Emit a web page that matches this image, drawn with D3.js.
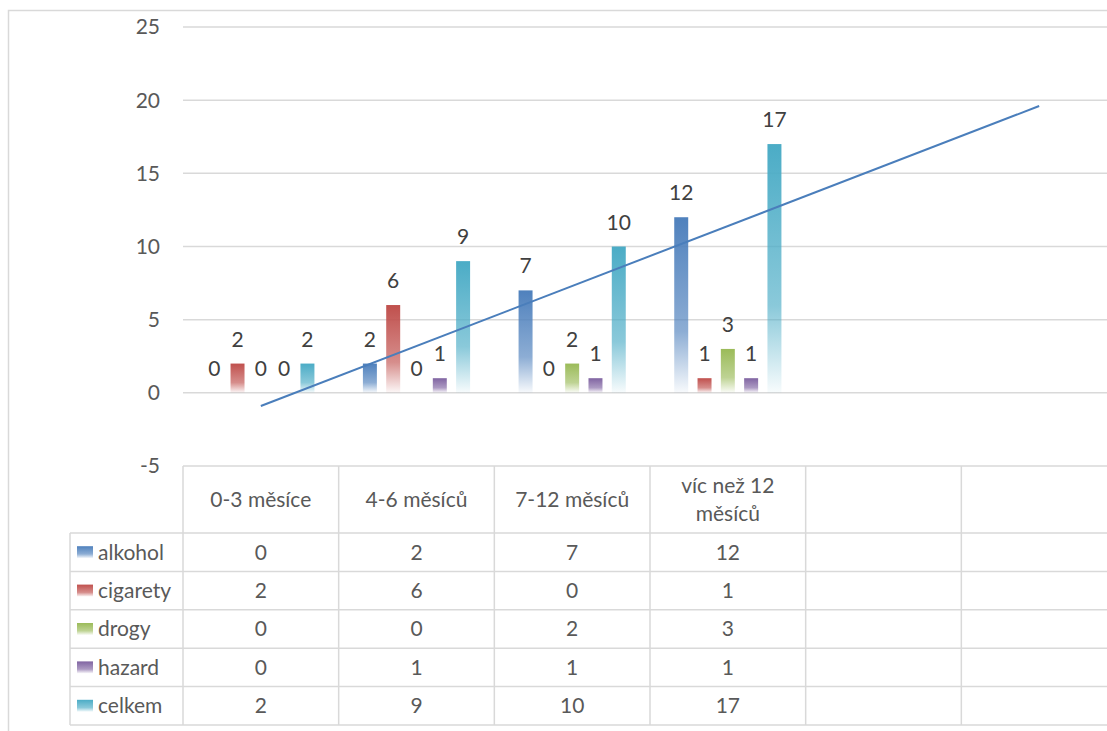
<!DOCTYPE html>
<html>
<head>
<meta charset="utf-8">
<script src="https://cdn.jsdelivr.net/npm/d3@7"></script>
<style>
  body { margin: 0; background: #fff; }
  svg { display: block; font-family: Lato, "Open Sans", sans-serif; }
</style>
</head>
<body>
<script>
// data
var categories = ["0-3 měsíce", "4-6 měsíců", "7-12 měsíců", "víc než 12 měsíců", "", ""];
var seriesNames = ["alkohol", "cigarety", "drogy", "hazard", "celkem"];
var alkohol = [0, 2, 7, 12];
var cigarety = [2, 6, 0, 1];
var drogy = [0, 0, 2, 3];
var hazard = [0, 1, 1, 1];
var celkem = [2, 9, 10, 17];
var yTicks = [-5, 0, 5, 10, 15, 20, 25];
var colors = ["#4F81BD", "#C0504D", "#9BBB59", "#8064A2", "#4BACC6"];

var values = [alkohol, cigarety, drogy, hazard, celkem];

// layout
var width = 1107, height = 731;
var plotLeft = 183, plotRight = 1117, plotTop = 27, plotBottom = 466;
var tableLeft = 70;
var headerH = 67, rowH = 38.4;
var fs = 21;

var svg = d3.select("body").append("svg")
    .attr("width", width)
    .attr("height", height);

// gradients
var defs = svg.append("defs");
seriesNames.forEach(function(s, i) {
  var g = defs.append("linearGradient")
      .attr("id", "grad" + i)
      .attr("x1", 0).attr("y1", 0).attr("x2", 0).attr("y2", 1);
  g.append("stop").attr("offset", "0%").attr("stop-color", colors[i]).attr("stop-opacity", 1);
  g.append("stop").attr("offset", "65%").attr("stop-color", colors[i]).attr("stop-opacity", 0.65);
  g.append("stop").attr("offset", "100%").attr("stop-color", colors[i]).attr("stop-opacity", 0.04);
});

// chart frame
svg.append("rect")
    .attr("x", 8.5).attr("y", 10.5)
    .attr("width", 1120).attr("height", 740)
    .attr("fill", "none")
    .attr("stroke", "#d9d9d9")
    .attr("stroke-width", 1.5);

var x0 = d3.scaleBand().domain(d3.range(categories.length)).range([plotLeft, plotRight]);
var x1 = d3.scaleBand().domain(seriesNames).range([0, x0.bandwidth()])
    .paddingInner(0.4).paddingOuter(1.04);
var y = d3.scaleLinear().domain([-5, 25]).range([plotBottom, plotTop]);

// gridlines
svg.append("g")
    .selectAll("line")
    .data(yTicks.filter(function(d) { return d > -5; }))
    .join("line")
    .attr("x1", plotLeft).attr("x2", width)
    .attr("y1", function(d) { return y(d); })
    .attr("y2", function(d) { return y(d); })
    .attr("stroke", "#d9d9d9")
    .attr("stroke-width", 1.5);

// y axis labels
svg.append("g")
    .selectAll("text")
    .data(yTicks)
    .join("text")
    .attr("x", 160)
    .attr("y", function(d) { return y(d); })
    .attr("dy", "0.35em")
    .attr("text-anchor", "end")
    .attr("font-size", fs)
    .attr("fill", "#595959")
    .text(function(d) { return d; });

// bars
var barData = [];
values.forEach(function(arr, si) {
  arr.forEach(function(v, ci) {
    barData.push({ s: seriesNames[si], si: si, c: ci, v: v });
  });
});

svg.append("g")
    .selectAll("rect")
    .data(barData.filter(function(d) { return d.v > 0; }))
    .join("rect")
    .attr("x", function(d) { return x0(d.c) + x1(d.s); })
    .attr("y", function(d) { return y(d.v); })
    .attr("width", x1.bandwidth())
    .attr("height", function(d) { return y(0) - y(d.v); })
    .attr("fill", function(d) { return "url(#grad" + d.si + ")"; });

// data labels
svg.append("g")
    .selectAll("text")
    .data(barData)
    .join("text")
    .attr("x", function(d) { return x0(d.c) + x1(d.s) + x1.bandwidth() / 2; })
    .attr("y", function(d) { return y(d.v) - 17; })
    .attr("text-anchor", "middle")
    .attr("font-size", fs)
    .attr("fill", "#404040")
    .text(function(d) { return d.v; });

// linear trendline on alkohol, forecast forward to 6 periods
var xs = alkohol.map(function(d, i) { return i + 1; });
var mx = d3.mean(xs), my = d3.mean(alkohol);
var slope = d3.sum(xs, function(xv, i) { return (xv - mx) * (alkohol[i] - my); }) /
            d3.sum(xs, function(xv) { return (xv - mx) * (xv - mx); });
var intercept = my - slope * mx;
var trendPts = [1, categories.length];

svg.append("line")
    .attr("x1", x0(trendPts[0] - 1) + x0.bandwidth() / 2)
    .attr("y1", y(intercept + slope * trendPts[0]))
    .attr("x2", x0(trendPts[1] - 1) + x0.bandwidth() / 2)
    .attr("y2", y(intercept + slope * trendPts[1]))
    .attr("stroke", "#4A7EBB")
    .attr("stroke-width", 2);

// data table
var table = svg.append("g");
var tableBottom = plotBottom + headerH + rowH * seriesNames.length;
var lineColor = "#d9d9d9";

// horizontal lines
table.append("line")
    .attr("x1", plotLeft).attr("x2", width)
    .attr("y1", plotBottom).attr("y2", plotBottom)
    .attr("stroke", lineColor).attr("stroke-width", 1.5);
d3.range(seriesNames.length + 1).forEach(function(r) {
  var yy = plotBottom + headerH + r * rowH;
  table.append("line")
      .attr("x1", tableLeft).attr("x2", width)
      .attr("y1", yy).attr("y2", yy)
      .attr("stroke", lineColor).attr("stroke-width", 1.5);
});

// vertical lines
table.append("line")
    .attr("x1", tableLeft).attr("x2", tableLeft)
    .attr("y1", plotBottom + headerH).attr("y2", tableBottom)
    .attr("stroke", lineColor).attr("stroke-width", 1.5);
d3.range(categories.length + 1).forEach(function(c) {
  var xx = plotLeft + c * x0.bandwidth();
  table.append("line")
      .attr("x1", xx).attr("x2", xx)
      .attr("y1", plotBottom).attr("y2", tableBottom)
      .attr("stroke", lineColor).attr("stroke-width", 1.5);
});

// header text (wraps long labels)
categories.forEach(function(cat, ci) {
  if (!cat) return;
  var cx = x0(ci) + x0.bandwidth() / 2;
  var lines = cat.length > 14 ? ["víc než 12", "měsíců"] : [cat];
  var cy = plotBottom + headerH / 2;
  var t = table.append("text")
      .attr("text-anchor", "middle")
      .attr("font-size", fs)
      .attr("fill", "#595959");
  lines.forEach(function(l, li) {
    t.append("tspan")
        .attr("x", cx)
        .attr("y", cy + (li - (lines.length - 1) / 2) * 28)
        .attr("dy", "0.35em")
        .text(l);
  });
});

// rows
seriesNames.forEach(function(s, si) {
  var ry = plotBottom + headerH + si * rowH;
  table.append("rect")
      .attr("x", 77).attr("y", ry + rowH / 2 - 6)
      .attr("width", 16).attr("height", 12)
      .attr("fill", "url(#grad" + si + ")");
  table.append("text")
      .attr("x", 98).attr("y", ry + rowH / 2)
      .attr("dy", "0.35em")
      .attr("font-size", fs)
      .attr("fill", "#595959")
      .text(s);
  values[si].forEach(function(v, ci) {
    table.append("text")
        .attr("x", x0(ci) + x0.bandwidth() / 2)
        .attr("y", ry + rowH / 2)
        .attr("dy", "0.35em")
        .attr("text-anchor", "middle")
        .attr("font-size", fs)
        .attr("fill", "#595959")
        .text(v);
  });
});
</script>
</body>
</html>
